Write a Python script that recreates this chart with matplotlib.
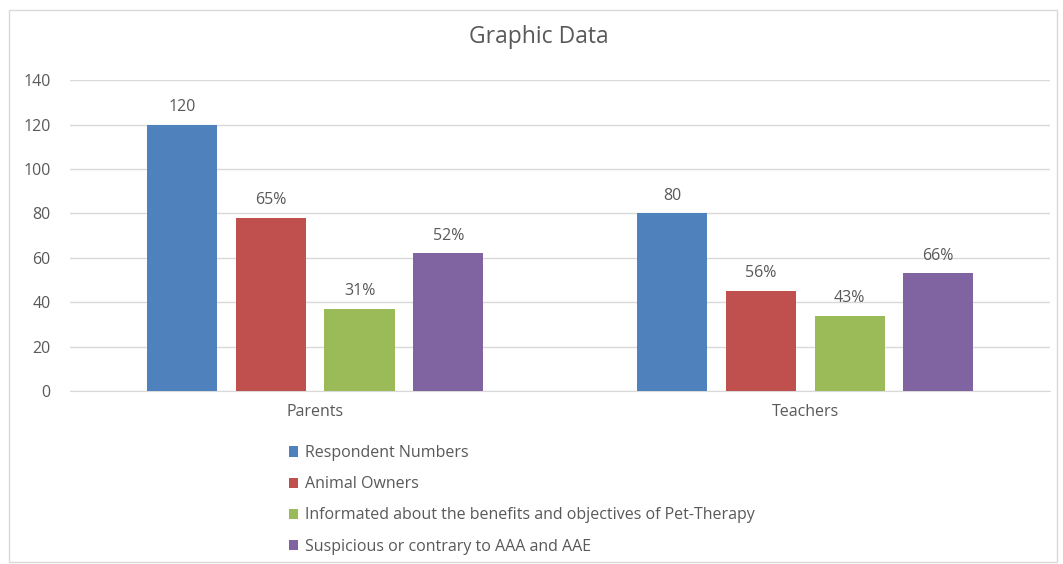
import numpy as np
import matplotlib
matplotlib.use('Agg')
import matplotlib.pyplot as plt
from matplotlib.patches import Rectangle

groups = ['Parents', 'Teachers']
series = ['Respondent Numbers', 'Animal Owners',
          'Informated about the benefits and objectives of Pet-Therapy',
          'Suspicious or contrary to AAA and AAE']
values = [[120, 80], [78, 45], [37, 34], [62, 53]]
bar_labels = [['120', '80'], ['65%', '56%'], ['31%', '43%'], ['52%', '66%']]
colors = ['#4f81bd', '#c0504d', '#9bbb59', '#8064a2']

plt.rcParams['font.family'] = ['Open Sans', 'DejaVu Sans']
txt = '#595959'

fig = plt.figure(figsize=(10.63, 5.64), dpi=100)
fig.patches.append(Rectangle((0.008, 0.003), 0.986, 0.979, transform=fig.transFigure,
                             fill=False, edgecolor='#d9d9d9', lw=1))
ax = fig.add_axes([0.066, 0.3067, 0.922, 0.5513])

x = np.arange(len(groups))
w = 0.143
step = 0.181
for i in range(len(series)):
    pos = x + (i - 1.5) * step
    b = ax.bar(pos, values[i], w, color=colors[i], label=series[i], zorder=3)
    ax.bar_label(b, labels=bar_labels[i], padding=7, fontsize=11.5, color=txt)

ax.set_xlim(-0.5, 1.5)
ax.set_ylim(0, 140)
ax.set_yticks(range(0, 141, 20))
ax.set_xticks(x)
ax.set_xticklabels(groups)
ax.grid(axis='y', color='#d9d9d9', lw=1, zorder=0)
for s in ['top', 'right', 'left']:
    ax.spines[s].set_visible(False)
ax.spines['bottom'].set_color('#d9d9d9')
ax.tick_params(length=0, labelsize=11.5, labelcolor=txt)
ax.tick_params(axis='y', pad=14)
ax.tick_params(axis='x', pad=9)

fig.suptitle('Graphic Data', x=0.507, y=0.955, fontsize=16.5, color=txt)

fig.legend(loc='upper left', bbox_to_anchor=(0.264, 0.225), frameon=False,
           fontsize=11.5, handlelength=0.6, handleheight=0.6, handletextpad=0.45,
           labelspacing=0.95, labelcolor=txt, borderpad=0)

fig.savefig('out.png', dpi=100)
